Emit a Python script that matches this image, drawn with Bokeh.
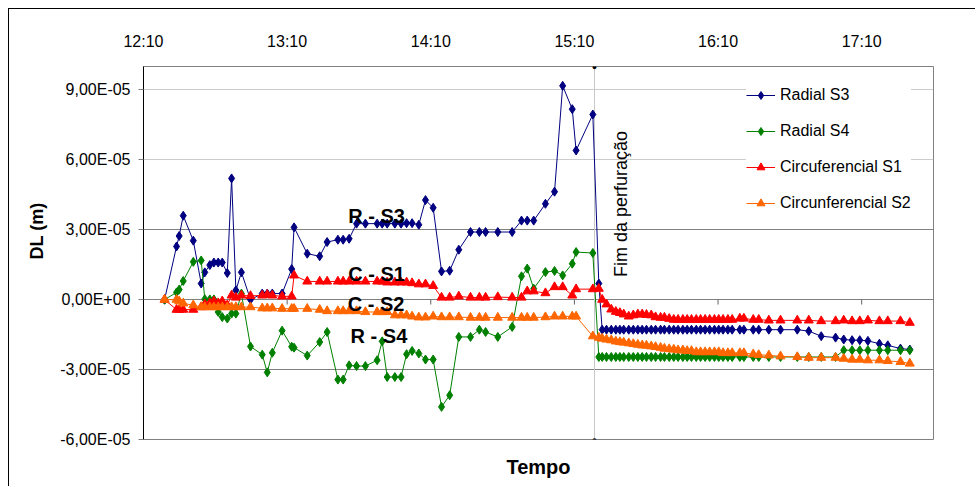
from bokeh.plotting import figure
from math import pi
from bokeh.models import FixedTicker, Grid, Label, Legend, LegendItem, LinearAxis, Range1d, Title
from bokeh.embed import file_html
from bokeh.resources import INLINE

# ---- data (time in minutes after 12:10, DL in units of 1e-5 m) ----
tempo_min = [
    8.8, 13.8, 14.9, 16.6, 20.8, 24.1, 25.6, 27.7, 29.4, 31.2,
    32.9, 35.0, 36.8, 38.6, 40.9, 44.7, 49.6, 51.7, 53.8, 57.9,
    61.9, 62.9, 68.4, 73.6, 76.7, 81.2, 83.4, 85.9, 89.0, 92.7,
    97.6, 99.7, 101.8, 105.0, 107.6, 109.9, 112.2, 115.0, 117.8, 121.0,
    124.5, 127.9, 131.7, 136.6, 140.3, 142.9, 148.0, 154.0, 157.9, 160.3,
    163.0, 167.9, 171.7, 175.1, 179.1, 180.7, 187.7,
    190.2, 191.6, 193.4, 195.4, 197.3, 199.0, 200.6, 202.7, 204.6, 206.5,
    208.3, 210.1, 212.1, 213.9, 216.0, 217.6, 219.6, 221.5, 223.3, 225.3,
    227.1, 228.9, 230.9, 232.7, 234.6, 236.5, 238.5, 240.3, 242.1, 244.1,
    245.9, 249.1, 250.8, 254.7, 257.0, 261.2, 266.1, 273.1, 277.9, 283.1,
    289.1, 292.5, 296.0, 299.2, 302.6, 307.4, 310.9, 316.2, 320.1]

radial_s3 = [
    0.00, 2.28, 2.73, 3.60, 2.53, 0.69, 1.17, 1.48, 1.59, 1.59,
    1.59, 1.14, 5.20, 0.40, 1.17, 0.00, 0.26, 0.26, 0.26, 0.26,
    1.31, 3.10, 1.97, 1.86, 2.47, 2.57, 2.57, 2.61, 3.26, 3.26,
    3.26, 3.26, 3.26, 3.26, 3.26, 3.28, 3.28, 3.21, 4.27, 3.94,
    1.21, 1.24, 2.14, 2.90, 2.90, 2.90, 2.90, 2.90, 3.39, 3.39,
    3.39, 4.11, 4.63, 9.17, 8.17, 6.40, 7.94,
    0.69, -1.29, -1.29, -1.29, -1.29, -1.29, -1.29, -1.29, -1.29, -1.29,
    -1.29, -1.29, -1.29, -1.29, -1.29, -1.29, -1.29, -1.29, -1.29, -1.29,
    -1.29, -1.29, -1.29, -1.29, -1.29, -1.29, -1.29, -1.29, -1.29, -1.29,
    -1.29, -1.29, -1.29, -1.29, -1.29, -1.29, -1.29, -1.29, -1.35, -1.57,
    -1.63, -1.71, -1.74, -1.74, -1.77, -1.89, -1.96, -2.10, -2.14]

radial_s4 = [
    0.00, 0.31, 0.43, 0.80, 1.62, 1.68, 0.02, 0.01, 0.01, -0.53,
    -0.75, -0.81, -0.60, -0.60, 0.26, -2.01, -2.36, -3.12, -2.28, -1.33,
    -2.02, -2.06, -2.40, -1.82, -1.39, -3.43, -3.43, -2.82, -2.85, -2.85,
    -2.60, -1.79, -3.32, -3.32, -3.32, -2.34, -2.20, -2.31, -2.57, -2.57,
    -4.60, -4.10, -1.60, -1.60, -1.29, -1.39, -1.60, -1.17, 1.00, 1.33,
    0.47, 1.18, 1.23, 1.04, 1.54, 2.04, 2.00,
    -2.46, -2.46, -2.46, -2.46, -2.46, -2.46, -2.46, -2.46, -2.46, -2.46,
    -2.46, -2.46, -2.46, -2.46, -2.46, -2.46, -2.46, -2.46, -2.46, -2.46,
    -2.46, -2.46, -2.46, -2.46, -2.46, -2.46, -2.46, -2.46, -2.46, -2.46,
    -2.46, -2.46, -2.46, -2.46, -2.46, -2.46, -2.46, -2.46, -2.46, -2.46,
    -2.46, -2.17, -2.17, -2.17, -2.17, -2.17, -2.17, -2.17, -2.17]

circuferencial_s1 = [
    0.00, -0.43, -0.43, -0.43, -0.43, -0.32, -0.20, -0.15, -0.07, -0.15,
    -0.07, -0.24, 0.18, 0.09, 0.18, 0.16, 0.18, 0.21, 0.18, 0.14,
    0.14, 1.04, 0.78, 0.78, 0.78, 0.78, 0.78, 0.78, 0.78, 0.78,
    0.78, 0.78, 0.74, 0.74, 0.74, 0.74, 0.71, 0.66, 0.66, 0.59,
    0.09, 0.09, 0.14, 0.09, 0.09, 0.09, 0.11, 0.09, 0.09, 0.36,
    0.36, 0.28, 0.54, 0.54, 0.18, 0.45, 0.45,
    0.47, 0.00, -0.20, -0.42, -0.52, -0.57, -0.63, -0.72, -0.67, -0.63,
    -0.63, -0.65, -0.67, -0.75, -0.77, -0.77, -0.82, -0.86, -0.86, -0.86,
    -0.86, -0.86, -0.86, -0.86, -0.86, -0.86, -0.86, -0.86, -0.86, -0.86,
    -0.86, -0.81, -0.81, -0.86, -0.86, -0.89, -0.89, -0.89, -0.89, -0.92,
    -0.92, -0.89, -0.92, -0.92, -0.89, -0.92, -0.92, -0.92, -0.99]

circunferencial_s2 = [
    0.00, 0.00, -0.07, -0.16, -0.24, -0.32, -0.32, -0.32, -0.32, -0.32,
    -0.32, -0.32, -0.32, -0.32, -0.32, -0.32, -0.37, -0.37, -0.37, -0.39,
    -0.39, -0.39, -0.39, -0.43, -0.49, -0.49, -0.49, -0.49, -0.49, -0.53,
    -0.53, -0.53, -0.53, -0.67, -0.67, -0.67, -0.72, -0.76, -0.76, -0.72,
    -0.75, -0.75, -0.75, -0.77, -0.77, -0.77, -0.77, -0.77, -0.77, -0.77,
    -0.77, -0.75, -0.72, -0.72, -0.72, -0.72, -1.57,
    -1.63, -1.67, -1.71, -1.74, -1.79, -1.82, -1.84, -1.87, -1.90, -1.93,
    -1.96, -1.97, -2.00, -2.03, -2.06, -2.10, -2.12, -2.14, -2.17, -2.17,
    -2.20, -2.20, -2.25, -2.25, -2.25, -2.25, -2.25, -2.25, -2.29, -2.29,
    -2.29, -2.29, -2.29, -2.34, -2.37, -2.39, -2.43, -2.46, -2.49, -2.49,
    -2.49, -2.53, -2.57, -2.57, -2.60, -2.60, -2.63, -2.67, -2.74]

fim_perfuracao_min = 188.4

hour_ticks = [0, 60, 120, 180, 240, 300]
hour_labels = ["12:10", "13:10", "14:10", "15:10", "16:10", "17:10"]
y_ticks = [-6, -3, 0, 3, 6, 9]
y_tick_labels = ["-6,00E-05", "-3,00E-05", "0,00E+00", "3,00E-05", "6,00E-05", "9,00E-05"]

for s in (radial_s3, radial_s4, circuferencial_s1, circunferencial_s2):
    assert len(s) == len(tempo_min)

FONT = "Liberation Sans"

p = figure(frame_width=790, frame_height=373,
           x_range=Range1d(0, 330), y_range=Range1d(-6, 10),
           x_axis_location="above",
           output_backend="svg", toolbar_location=None,
           min_border_left=134, min_border_right=42,
           min_border_top=57, min_border_bottom=47,
           background_fill_color="white", border_fill_color="white",
           outline_line_color="#808080")
p.styles = {"margin-left": "8px", "margin-top": "8px",
            "border-left": "1px solid black", "border-top": "1px solid black"}

# top axis (hours)
top = p.xaxis[0]
top.ticker = FixedTicker(ticks=hour_ticks)
top.major_label_overrides = dict(zip(hour_ticks, hour_labels))
top.axis_line_color = None
top.major_tick_line_color = None
top.minor_tick_line_color = None
top.major_label_text_font = FONT
top.major_label_text_font_size = "16px"
top.major_label_text_color = "black"
top.major_label_standoff = 11

# bottom axis: only the title
bottom = LinearAxis(ticker=FixedTicker(ticks=[]), axis_label="Tempo",
                    axis_line_color=None, major_tick_line_color=None,
                    minor_tick_line_color=None,
                    axis_label_text_font=FONT, axis_label_text_font_size="20px",
                    axis_label_text_font_style="bold", axis_label_text_color="black",
                    axis_label_standoff=16)
p.add_layout(bottom, "below")

# left axis
ya = p.yaxis[0]
ya.ticker = FixedTicker(ticks=y_ticks)
ya.major_label_overrides = dict(zip(y_ticks, y_tick_labels))
ya.axis_line_color = "black"
ya.major_tick_out = 5
ya.major_tick_in = 0
ya.major_tick_line_color = "#808080"
ya.minor_tick_line_color = None
ya.major_label_standoff = 8
ya.major_label_text_font = FONT
ya.major_label_text_font_size = "16px"
ya.major_label_text_color = "black"

# y-axis title as a side title, positioned along the frame with an offset
p.add_layout(Title(text="DL (m)", align="left", offset=180, vertical_align="middle",
                   standoff=20, text_font=FONT, text_font_size="18px",
                   text_font_style="bold", text_color="black"), "left")

# grids
p.xgrid.visible = False
p.ygrid.ticker = FixedTicker(ticks=y_ticks[1:4])
p.ygrid.grid_line_color = "#808080"
p.add_layout(Grid(dimension=1, ticker=FixedTicker(ticks=y_ticks[4:]),
                  grid_line_color="#cccccc"))

# small tick marks on the zero line
p.segment(x0=hour_ticks[1:], y0=[0] * 5, x1=hour_ticks[1:], y1=[-0.21] * 5,
          line_color="#606060", line_width=1)

# end of drilling line
p.segment(x0=[fim_perfuracao_min], y0=[-6], x1=[fim_perfuracao_min], y1=[10],
          line_color="#c8c8c8", line_width=1)
for yy in (-6, 10):
    p.add_layout(Label(x=fim_perfuracao_min, y=yy, text="\u25cf", text_align="center",
                       text_baseline="middle", text_font=FONT, text_font_size="9px",
                       text_color="black"))

series = [
    ("Radial S3", radial_s3, "#000080", "diamond", 9),
    ("Radial S4", radial_s4, "#008000", "diamond", 9),
    ("Circuferencial S1", circuferencial_s1, "#ff0000", "triangle", 9),
    ("Circunferencial S2", circunferencial_s2, "#ff6600", "triangle", 9),
]
items = []
for name, vals, col, mk, sz in series:
    ln = p.line(tempo_min, vals, line_color=col, line_width=1)
    sc = p.scatter(tempo_min, vals, marker=mk, size=sz, fill_color=col, line_color=col)
    items.append(LegendItem(label=name, renderers=[ln, sc]))

legend = Legend(items=items, location=(603, 226), orientation="vertical",
                label_text_font=FONT, label_text_font_size="16px", label_text_color="black",
                glyph_width=29, glyph_height=20, label_height=20, label_standoff=5,
                spacing=16, padding=8, margin=0,
                border_line_color=None, background_fill_color="white",
                background_fill_alpha=1.0)
p.add_layout(legend)

# in-plot labels
for txt, xx, yy in [("R - S3", 85.5, 3.57), ("C - S1", 85.5, 1.11),
                    ("C - S2", 85.3, -0.20), ("R - S4", 86.5, -1.57)]:
    p.add_layout(Label(x=xx, y=yy, text=txt, text_font=FONT, text_font_size="20px",
                       text_font_style="bold", text_color="black",
                       text_align="left", text_baseline="alphabetic"))

p.add_layout(Label(x=fim_perfuracao_min, y=0.97, x_offset=26, text="Fim da perfuração",
                   angle=pi / 2, text_align="left", text_baseline="alphabetic",
                   text_font=FONT, text_font_size="18px", text_color="black"))

open("out.html", "w").write(file_html(p, INLINE))
